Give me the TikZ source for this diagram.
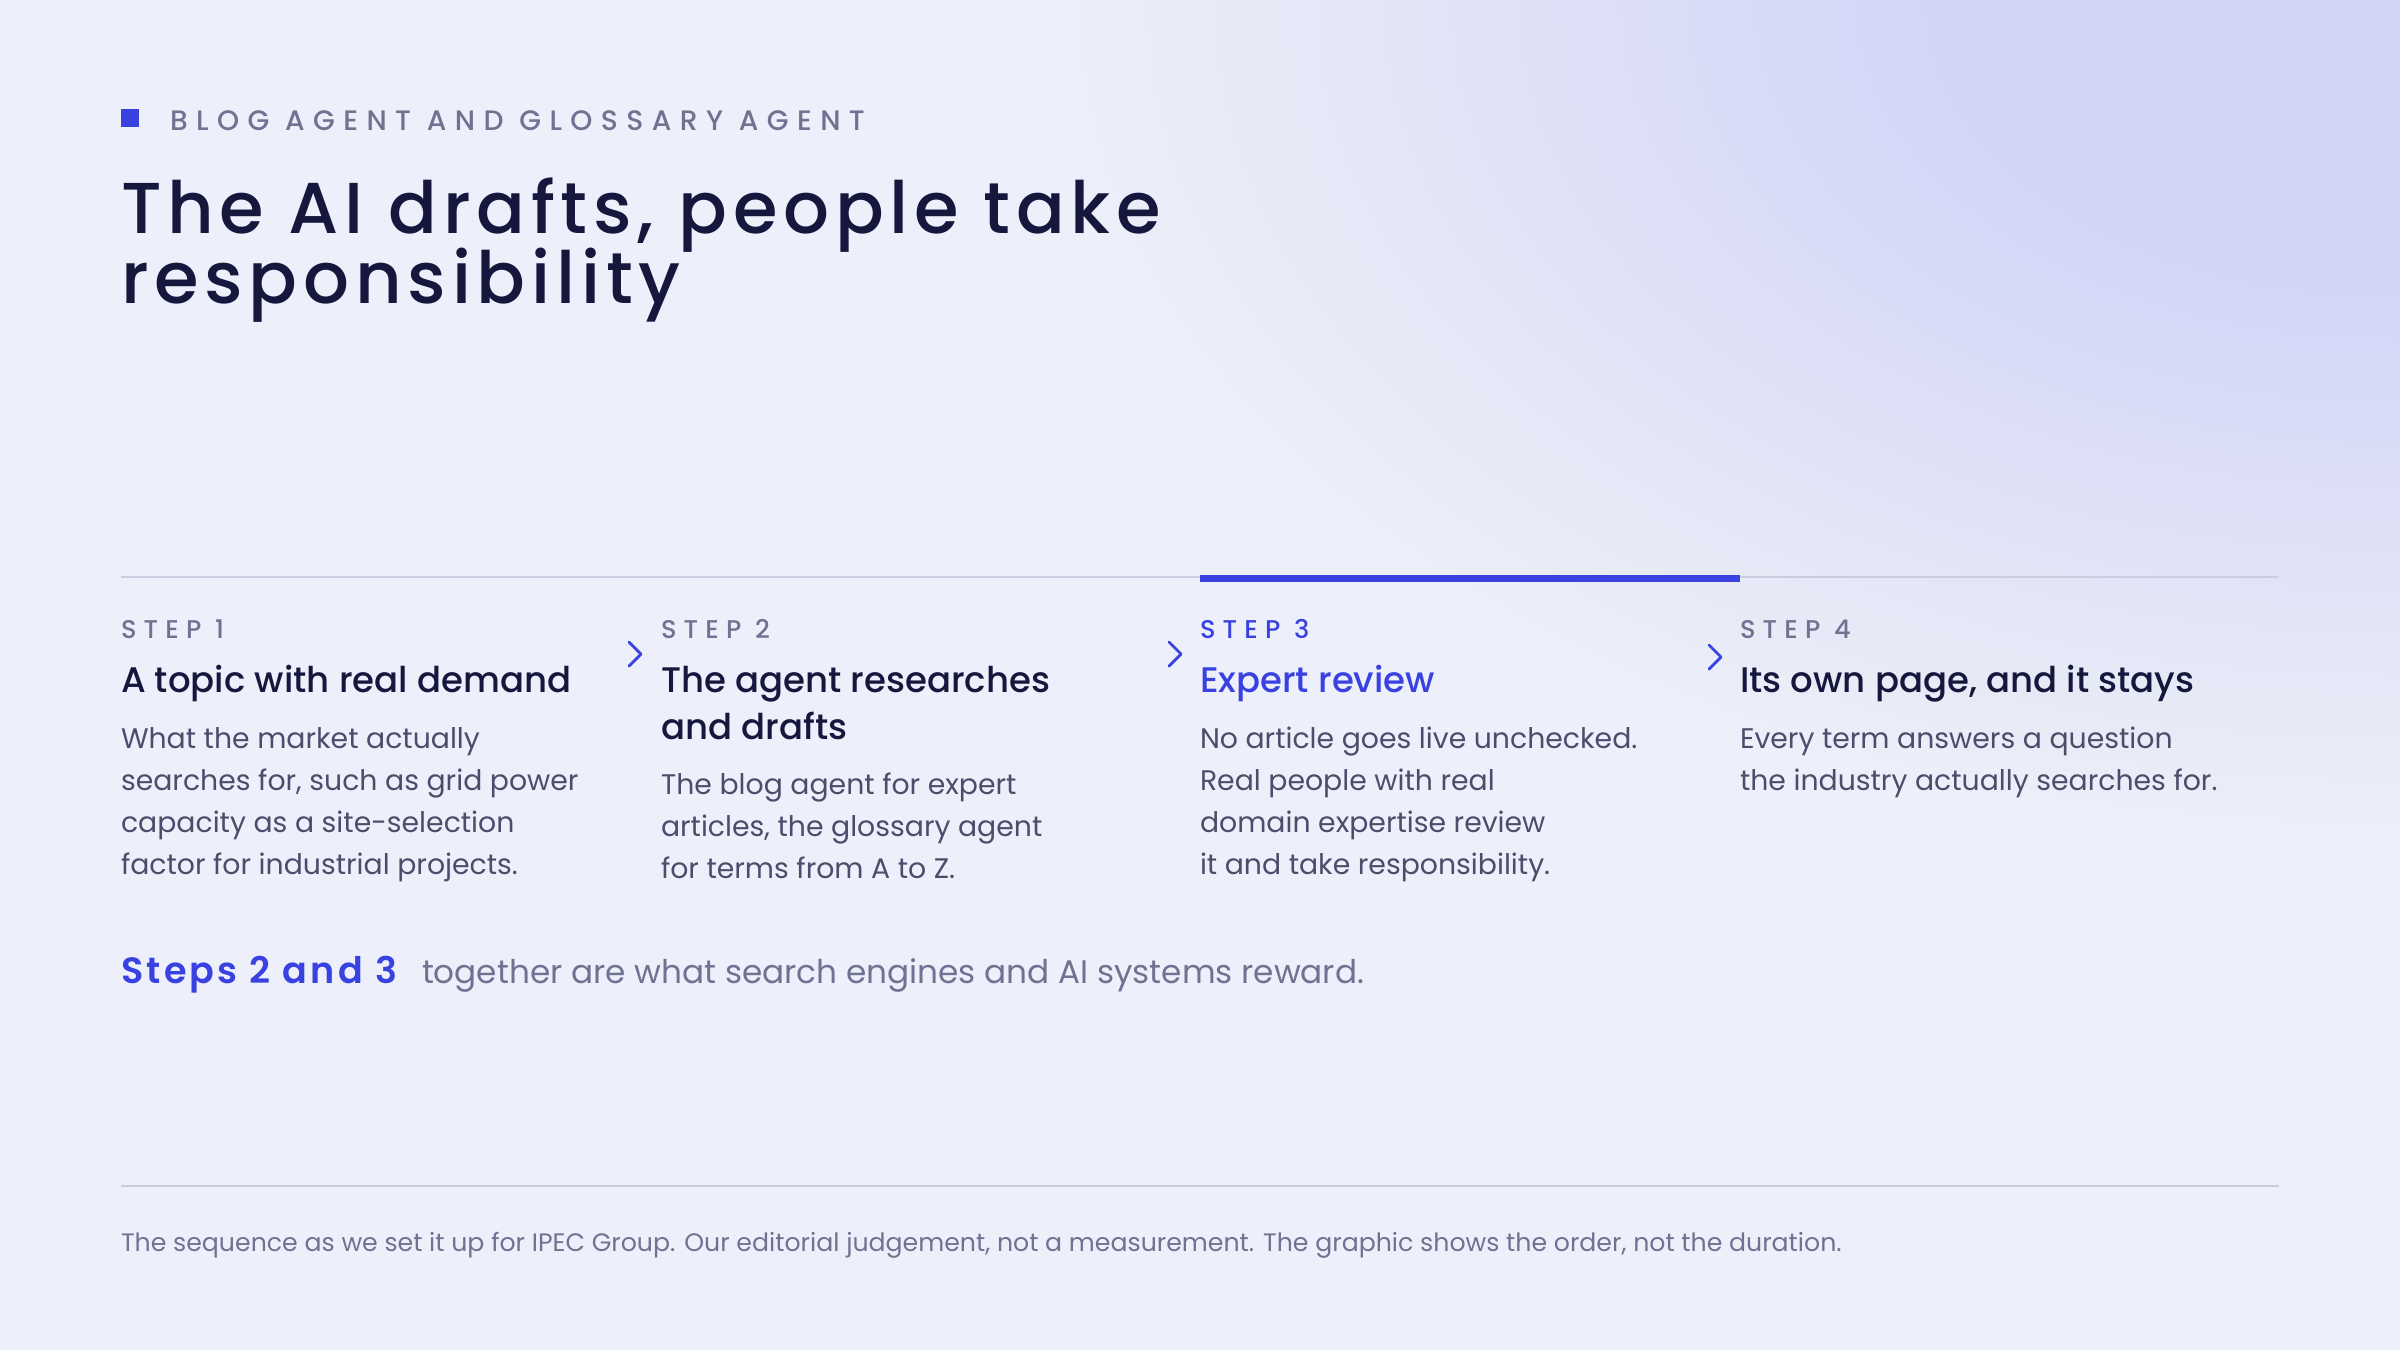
\documentclass[tikz,border=0pt]{standalone}
\usepackage{fontspec}
\setmainfont{Poppins}
\newfontfamily\semib{Poppins SemiBold}
\newfontfamily\medf{Poppins Medium}
\definecolor{basec}{HTML}{EDF0FB}
\definecolor{glowc}{HTML}{D1D5F6}
\definecolor{blueac}{HTML}{3942E0}
\definecolor{navy}{HTML}{15173D}
\definecolor{graylab}{HTML}{6F7290}
\definecolor{bodyc}{HTML}{4B4D6B}
\definecolor{linec}{HTML}{CACDE0}
\tikzset{
  txt/.style={inner sep=0pt, outer sep=0pt, anchor=base west},
  eyebrow/.style={txt, text=graylab, font=\fontsize{8}{9}\medf\addfontfeature{LetterSpace=30}},
  titletxt/.style={txt, text=navy, font=\fontsize{20.5}{24}\medf\addfontfeature{LetterSpace=8}},
  steplab/.style={txt, text=graylab, font=\fontsize{7.3}{8}\medf\addfontfeature{LetterSpace=28}},
  steptitle/.style={txt, text=navy, font=\fontsize{10.1}{12}\medf},
  bodytxt/.style={txt, text=bodyc, font=\fontsize{8.05}{10}\selectfont},
  chev/.style={draw=blueac, line width=0.8pt, line cap=round, line join=round},
  glowlayer/.style={fill=glowc, fill opacity=0.034},
}
\begin{document}
\begin{tikzpicture}[x=0.01cm, y=-0.01cm]
\useasboundingbox (0,0) rectangle (2400,1350);
\fill[basec] (0,0) rectangle (2400,1350);
\begin{scope}
\clip (0,0) rectangle (2400,1350);
\foreach \i in {1,...,40}
  \fill[glowlayer] (2400,0) ellipse [x radius=33.75*\i, y radius=21*\i];
\end{scope}
% header
\fill[blueac] (121,109) rectangle (139,127);
\node[eyebrow] (eyebrow) at (170,130) {BLOG AGENT AND GLOSSARY AGENT};
\node[titletxt] (title1) at (121,233) {The AI drafts, people take};
\node[titletxt] (title2) at (121,303) {responsibility};
% timeline
\coordinate (tl0) at (121,577);
\coordinate (tl1) at (2279,577);
\draw[linec, line width=0.6pt] (tl0) -- (tl1);
\coordinate (bar0) at (1200,578.5);
\coordinate (bar1) at (1740,578.5);
\draw[blueac, line width=1.75pt] (bar0) -- (bar1);
% step labels
\node[steplab] (s1) at (121,638) {STEP 1};
\node[steplab] (s2) at (661,638) {STEP 2};
\node[steplab, text=blueac] (s3) at (1200,638) {STEP 3};
\node[steplab] (s4) at (1740,638) {STEP 4};
% step titles
\node[steptitle] (t1) at (121,692) {A topic with real demand};
\node[steptitle] (t2a) at (661,692) {The agent researches};
\node[steptitle] (t2b) at (661,739) {and drafts};
\node[steptitle, text=blueac] (t3) at (1200,692) {Expert review};
\node[steptitle] (t4) at (1740,692) {Its own page, and it stays};
% bodies
\foreach \t [count=\i from 0] in {{What the market actually},{searches for, such as grid power},{capacity as a site-selection},{factor for industrial projects.}}
  \node[bodytxt] (b1-\i) at (121,748+42*\i) {\t};
\foreach \t [count=\i from 0] in {{The blog agent for expert},{articles, the glossary agent},{for terms from A to Z.}}
  \node[bodytxt] (b2-\i) at (661,794+42*\i) {\t};
\foreach \t [count=\i from 0] in {{No article goes live unchecked.},{Real people with real},{domain expertise review},{it and take responsibility.}}
  \node[bodytxt] (b3-\i) at (1200,748+42*\i) {\t};
\foreach \t [count=\i from 0] in {{Every term answers a question},{the industry actually searches for.}}
  \node[bodytxt] (b4-\i) at (1740,748+42*\i) {\t};
% chevrons
\foreach \cx/\cy [count=\k] in {635/654, 1175/654, 1715/657}{
  \coordinate (cva\k) at (\cx-6,\cy-12);
  \coordinate (cvb\k) at (\cx+6,\cy);
  \coordinate (cvc\k) at (\cx-6,\cy+12);
  \draw[chev] (cva\k) -- (cvb\k) -- (cvc\k);
}
% summary
\node[txt, text=blueac, font=\fontsize{10.4}{12}\semib\addfontfeature{LetterSpace=9}] (sum1) at (121,983) {Steps 2 and 3};
\node[txt, text=graylab, font=\fontsize{9.3}{11}\selectfont] (sum2) at (422,983) {together are what search engines and AI systems reward.};
% footer
\coordinate (fl0) at (121,1186);
\coordinate (fl1) at (2279,1186);
\draw[linec, line width=0.6pt] (fl0) -- (fl1);
\node[txt, text=graylab, font=\fontsize{7.17}{8}\selectfont] (foot) at (121,1251) {The sequence as we set it up for IPEC Group. Our editorial judgement, not a measurement. The graphic shows the order, not the duration.};
\end{tikzpicture}
\end{document}
